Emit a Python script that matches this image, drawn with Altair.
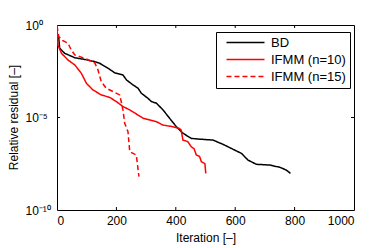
import altair as alt
import pandas as pd

# BD
bd_iter = [0, 6, 9, 26, 60, 93, 127, 144, 172, 194, 222, 234, 256, 273, 284, 306, 318, 335, 357,
           379, 402, 424, 452, 481, 525, 559, 593, 621, 643, 671, 716, 750, 772, 786]
bd_exp = [-0.6, -0.72, -1.26, -1.53, -1.77, -1.86, -1.98, -2.07, -2.34, -2.58, -2.7, -2.97, -3.24,
          -3.42, -3.69, -3.96, -4.14, -4.23, -4.59, -5.04, -5.5, -5.85, -6.13, -6.17, -6.22, -6.45,
          -6.72, -6.94, -7.3, -7.53, -7.57, -7.69, -7.84, -8.02]

# IFMM (n=10)
n10_iter = [0, 3, 15, 37, 60, 82, 99, 121, 149, 177, 200, 222, 245, 290, 335, 357, 391, 413, 418,
            424, 440, 452, 462, 469, 480, 486, 498, 501]
n10_exp = [-0.05, -1.08, -1.53, -1.89, -2.16, -2.61, -3.15, -3.51, -3.78, -3.91, -4.14, -4.41, -4.59,
           -5.04, -5.23, -5.41, -5.5, -5.6, -5.68, -6.22, -6.3, -6.58, -6.7, -7.03, -7.1, -7.39, -7.5, -8.02]

# IFMM (n=15)
n15_iter = [0, 6, 20, 37, 48, 60, 93, 127, 138, 149, 166, 189, 211, 217, 222, 228, 239, 245, 267, 276]
n15_exp = [-0.05, -0.63, -0.85, -0.99, -1.35, -1.62, -1.8, -2.04, -2.43, -3.06, -3.42, -3.6, -3.78,
           -4.2, -4.59, -5.31, -5.77, -6.85, -7.03, -8.2]

series_names = ["BD", "IFMM (n=10)", "IFMM (n=15)"]
x_ticks = [0, 200, 400, 600, 800, 1000]
y_ticks = [1e-10, 1e-5, 1]

rows = []
for name, its, exps in zip(series_names, [bd_iter, n10_iter, n15_iter], [bd_exp, n10_exp, n15_exp]):
    for i, (it, e) in enumerate(zip(its, exps)):
        rows.append({"series": name, "iter": it, "res": 10 ** e, "order": i})
df = pd.DataFrame(rows)

W, H = 297, 185
FONT = "Liberation Sans"

xscale = alt.Scale(domain=[0, 1000], nice=False)
yscale = alt.Scale(type="log", domain=[1e-10, 1], nice=False)

legend_kw = dict(title=None, orient="none", legendX=159, legendY=7,
                 symbolType="M0,0H38", symbolSize=4, symbolStrokeWidth=1.5,
                 labelOffset=38, labelAlign="left", labelFontSize=13, rowPadding=3, padding=4,
                 strokeColor="black", fillColor="white")

lines = alt.Chart(df).mark_line(strokeWidth=1.5, clip=True).encode(
    x=alt.X("iter:Q", scale=xscale,
            axis=alt.Axis(values=x_ticks, title="Iteration [–]", grid=False, ticks=False, tickSize=0,
                          domain=False, labelPadding=5, titleY=22, format="d")),
    y=alt.Y("res:Q", scale=yscale,
            axis=alt.Axis(values=y_ticks, title="Relative residual [–]", grid=False, ticks=False,
                          tickSize=0, domain=False, labelPadding=32, labelAlign="left",
                          titleX=-37, titleY=92,
                          labelExpr="datum.value >= 0.5 ? '10⁰' : (datum.value >= 1e-7 ? '10⁻⁵' : '10⁻¹⁰')")),
    color=alt.Color("series:N", scale=alt.Scale(domain=series_names, range=["black", "red", "red"]),
                    legend=alt.Legend(**legend_kw)),
    strokeDash=alt.StrokeDash("series:N",
                              scale=alt.Scale(domain=series_names, range=[[1, 0], [1, 0], [5, 3]]),
                              legend=alt.Legend(**legend_kw)),
    order="order:Q",
)

xt = pd.DataFrame({"t": x_ticks[1:-1]})
yt = pd.DataFrame({"t": [1e-5]})
bx = alt.Chart(xt).mark_rule(color="black").encode(x=alt.X("t:Q", scale=xscale), y=alt.value(H), y2=alt.value(H - 3))
tx = alt.Chart(xt).mark_rule(color="black").encode(x=alt.X("t:Q", scale=xscale), y=alt.value(0), y2=alt.value(3))
ly = alt.Chart(yt).mark_rule(color="black").encode(y=alt.Y("t:Q", scale=yscale), x=alt.value(0), x2=alt.value(3))
ry = alt.Chart(yt).mark_rule(color="black").encode(y=alt.Y("t:Q", scale=yscale), x=alt.value(W), x2=alt.value(W - 3))

chart = alt.layer(lines, bx, tx, ly, ry).properties(
    width=W, height=H,
    autosize=alt.AutoSizeParams(type="none"),
    padding={"left": 49, "top": 17, "right": 12, "bottom": 38},
).configure_view(stroke="black", strokeWidth=1).configure_axis(
    labelFont=FONT, titleFont=FONT, labelFontSize=12, titleFontSize=12, labelColor="black",
    titleColor="black", titleFontWeight="normal",
).configure_legend(labelFont=FONT, labelFontSize=13, labelColor="black")

chart.save("out.html", embed_options={"renderer": "svg", "actions": False})
